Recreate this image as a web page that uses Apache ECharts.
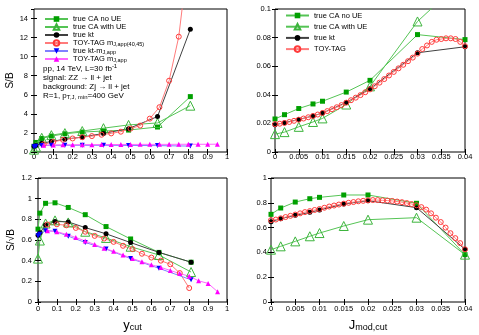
<!DOCTYPE html>
<html>
<head>
<meta charset="utf-8">
<script src="https://cdn.jsdelivr.net/npm/echarts@6/dist/echarts.min.js"></script>
<style>html,body{margin:0;padding:0;background:#fff}#c{width:479px;height:335px}</style>
</head>
<body>
<div id="c"></div>
<script>
// ---------- data ----------
const ycutA = [0, 0.01, 0.04, 0.09, 0.16, 0.25, 0.36, 0.49, 0.64, 0.81];
const ycutToy = [0.05, 0.10, 0.15, 0.20, 0.25, 0.30, 0.35, 0.40, 0.45, 0.50, 0.55, 0.60, 0.65, 0.70, 0.75, 0.80];
const ycutToyApp = [0.05, 0.10, 0.15, 0.20, 0.25, 0.30, 0.35, 0.40, 0.45, 0.50, 0.55, 0.60, 0.65, 0.70, 0.75, 0.80, 0.85, 0.90, 0.95];

// S/B vs ycut
const sbCAnoUE   = [0.6, 1.0, 1.42, 1.67, 1.91, 2.09, 2.2, 2.3, 2.62, 5.81];
const sbCAwithUE = [0.25, 0.55, 1.49, 1.77, 1.98, 2.2, 2.5, 2.84, 3.05, 4.86];
const sbKt       = [0.6, 0.67, 0.92, 1.1, 1.35, 1.56, 1.95, 2.45, 3.72, 12.87];
const sbToy      = [0.8, 1.06, 1.28, 1.42, 1.55, 1.67, 1.81, 1.95, 2.13, 2.45, 2.77, 3.5, 4.7, 7.48, 12.1, 20.5];
const sbKtApp    = [0.55, 0.6, 0.68, 0.7, 0.7, 0.7, 0.7, 0.69, 0.67, 0.62];
const sbToyApp   = [0.72, 0.74, 0.75, 0.76, 0.77, 0.77, 0.78, 0.78, 0.79, 0.79, 0.8, 0.8, 0.8, 0.8, 0.81, 0.81, 0.81, 0.81, 0.82];

// S/sqrt(B) vs ycut
const ssCAnoUE   = [0.705, 0.86, 0.955, 0.96, 0.915, 0.845, 0.73, 0.61, 0.48, 0.385];
const ssCAwithUE = [0.42, 0.595, 0.76, 0.79, 0.77, 0.68, 0.62, 0.535, 0.455, 0.29];
const ssKt       = [0.645, 0.67, 0.745, 0.78, 0.775, 0.72, 0.66, 0.575, 0.48, 0.385];
const ssToy      = [0.75, 0.752, 0.742, 0.717, 0.68, 0.64, 0.614, 0.582, 0.544, 0.512, 0.467, 0.43, 0.4, 0.365, 0.28, 0.135];
const ssKtApp    = [0.64, 0.655, 0.69, 0.685, 0.637, 0.576, 0.512, 0.42, 0.326, 0.215];
const ssToyApp   = [0.69, 0.68, 0.655, 0.625, 0.59, 0.557, 0.52, 0.49, 0.455, 0.42, 0.39, 0.36, 0.335, 0.305, 0.275, 0.25, 0.205, 0.18, 0.1];

// vs Jmod,cut
const jmodA = [0, 0.002, 0.005, 0.008, 0.01, 0.015, 0.02, 0.03, 0.04];
const jmodToy = [0, 0.001, 0.002, 0.003, 0.004, 0.005, 0.006, 0.007, 0.008, 0.009, 0.010,
  0.011, 0.012, 0.013, 0.014, 0.015, 0.016, 0.017, 0.018, 0.019, 0.020,
  0.021, 0.022, 0.023, 0.024, 0.025, 0.026, 0.027, 0.028, 0.029, 0.030,
  0.031, 0.032, 0.033, 0.034, 0.035, 0.036, 0.037, 0.038, 0.039, 0.040];

const sb2CAnoUE   = [0.0231, 0.0261, 0.0304, 0.0336, 0.0355, 0.0419, 0.0501, 0.0821, 0.0786];
const sb2CAwithUE = [0.0125, 0.0139, 0.0176, 0.021, 0.0235, 0.0332, 0.0459, 0.0913, 0.122];
const sb2Kt       = [0.019, 0.0205, 0.0228, 0.0252, 0.0273, 0.0346, 0.0442, 0.0694, 0.0736];
const sb2Toy = [0.0195, 0.0198, 0.0203, 0.021, 0.0218, 0.0226, 0.0234, 0.0243, 0.0252, 0.0262, 0.0273,
  0.0286, 0.0299, 0.0313, 0.0328, 0.0345, 0.0362, 0.038, 0.0398, 0.0418, 0.0438,
  0.046, 0.0485, 0.051, 0.0535, 0.056, 0.0585, 0.061, 0.0635, 0.066, 0.0688,
  0.072, 0.0745, 0.077, 0.0785, 0.079, 0.0795, 0.0795, 0.079, 0.077, 0.074];

const ss2CAnoUE   = [0.707, 0.758, 0.806, 0.833, 0.844, 0.863, 0.863, 0.796, 0.382];
const ss2CAwithUE = [0.422, 0.449, 0.489, 0.53, 0.556, 0.613, 0.664, 0.68, 0.382];
const ss2Kt       = [0.648, 0.672, 0.699, 0.723, 0.742, 0.79, 0.817, 0.761, 0.425];
const ss2Toy = [0.66, 0.665, 0.675, 0.685, 0.695, 0.705, 0.715, 0.725, 0.733, 0.742, 0.75,
  0.76, 0.77, 0.778, 0.786, 0.793, 0.8, 0.806, 0.812, 0.816, 0.82,
  0.822, 0.822, 0.82, 0.818, 0.815, 0.81, 0.805, 0.798, 0.79, 0.78,
  0.765, 0.745, 0.715, 0.68, 0.645, 0.6, 0.555, 0.515, 0.475, 0.425];

const namesTop = ['true CA no UE', 'true CA with UE', 'true kt', 'TOY-TAG m_J,app(40,45)', 'true kt-m_J,app', 'TOY-TAG m_J,app'];
const namesRight = ['true CA no UE', 'true CA with UE', 'true kt', 'TOY-TAG'];

// ---------- styles ----------
const FONT = 'Liberation Sans, Arial, Helvetica, sans-serif';
const ST = {
  caNo:   {symbol: 'rect', symbolSize: 5, itemStyle: {color: '#00a000'}, lineStyle: {color: '#55c455', width: 1}},
  caWith: {symbol: 'triangle', symbolSize: 9, itemStyle: {color: 'rgba(255,255,255,0)', borderColor: '#3cb43c', borderWidth: 1}, lineStyle: {color: '#55c455', width: 1}},
  kt:     {symbol: 'circle', symbolSize: 5, itemStyle: {color: '#000'}, lineStyle: {color: '#404040', width: 1}},
  toy:    {symbol: 'circle', symbolSize: 5, itemStyle: {color: 'rgba(255,255,255,0)', borderColor: '#ff3a3a', borderWidth: 1}, lineStyle: {color: '#ff7b7b', width: 1}},
  ktApp:  {symbol: 'triangle', symbolRotate: 180, symbolSize: 5, itemStyle: {color: '#0000ff'}, lineStyle: {color: '#8080ff', width: 1}},
  toyApp: {symbol: 'triangle', symbolSize: 5, itemStyle: {color: '#ff00ff'}, lineStyle: {color: '#ff66ff', width: 1}}
};

function pairs(xs, ys) { return xs.map((x, i) => [x, ys[i]]); }
function ser(name, gi, xs, ys, st) {
  return Object.assign({
    type: 'line', name: name, xAxisIndex: 2 * gi, yAxisIndex: 2 * gi,
    data: pairs(xs, ys), animation: false, clip: true,
    emphasis: {disabled: true}
  }, JSON.parse(JSON.stringify(st)));
}

const grids = [
  {left: 34, top: 9, width: 193, height: 143},
  {left: 275, top: 9, width: 190, height: 143},
  {left: 38, top: 178, width: 189, height: 124},
  {left: 271, top: 178, width: 194, height: 124}
].map(g => Object.assign(g, {show: true, borderColor: '#000', borderWidth: 1, backgroundColor: 'transparent'}));

const tick = {show: true, inside: true, length: 3, lineStyle: {color: '#000', width: 1}};
const lblBase = {color: '#000', fontFamily: FONT, fontSize: 7.5};

const axisRanges = [
  {x: [0, 1, 0.1], y: [0, 15, 2], xm: 1, ym: 6},
  {x: [0, 0.04, 0.005], y: [0, 0.1, 0.02], xm: 1, ym: 4},
  {x: [0, 1, 0.1], y: [0, 1.2, 0.2], xm: 3, ym: 6},
  {x: [0, 0.04, 0.005], y: [0, 1, 0.2], xm: 3, ym: 4}
];

const subRich = {
  a: {fontFamily: FONT, fontSize: 13, lineHeight: 14, color: '#000'},
  b: {fontFamily: FONT, fontSize: 9, lineHeight: 8, verticalAlign: 'bottom', color: '#000'}
};
const xNames = [null, null, '{a|y}{b|cut}', '{a|J}{b|mod,cut}'];
const yNames = ['S/B', null, 'S/\u221AB', null];
const yNameGaps = [19, 0, 22, 0];

const xAxes = [], yAxes = [];
axisRanges.forEach((r, gi) => {
  xAxes.push({
    type: 'value', gridIndex: gi, position: 'bottom', min: r.x[0], max: r.x[1], interval: r.x[2],
    axisLine: {show: false}, splitLine: {show: false}, axisTick: tick,
    axisLabel: Object.assign({margin: r.xm, showMaxLabel: true}, lblBase),
    name: xNames[gi] || '', nameLocation: 'middle', nameGap: 16,
    nameTextStyle: {rich: subRich}
  });
  xAxes.push({
    type: 'value', gridIndex: gi, position: 'top', min: r.x[0], max: r.x[1], interval: r.x[2],
    axisLine: {show: false}, splitLine: {show: false}, axisTick: tick, axisLabel: {show: false}
  });
  yAxes.push({
    type: 'value', gridIndex: gi, position: 'left', min: r.y[0], max: r.y[1], interval: r.y[2],
    axisLine: {show: false}, splitLine: {show: false}, axisTick: tick,
    axisLabel: Object.assign({margin: r.ym, showMaxLabel: gi !== 0}, lblBase),
    name: yNames[gi] || '', nameLocation: 'middle', nameGap: yNameGaps[gi],
    nameTextStyle: {fontFamily: FONT, fontSize: 10, color: '#000'}
  });
  yAxes.push({
    type: 'value', gridIndex: gi, position: 'right', min: r.y[0], max: r.y[1], interval: r.y[2],
    axisLine: {show: false}, splitLine: {show: false}, axisTick: tick, axisLabel: {show: false}
  });
});

const series = [
  ser(namesTop[0], 0, ycutA, sbCAnoUE, ST.caNo),
  ser(namesTop[1], 0, ycutA, sbCAwithUE, ST.caWith),
  ser(namesTop[2], 0, ycutA, sbKt, ST.kt),
  ser(namesTop[3], 0, ycutToy, sbToy, ST.toy),
  ser(namesTop[4], 0, ycutA, sbKtApp, ST.ktApp),
  ser(namesTop[5], 0, ycutToyApp, sbToyApp, ST.toyApp),

  ser(namesRight[0], 1, jmodA, sb2CAnoUE, ST.caNo),
  ser(namesRight[1], 1, jmodA, sb2CAwithUE, ST.caWith),
  ser(namesRight[2], 1, jmodA, sb2Kt, ST.kt),
  ser(namesRight[3], 1, jmodToy, sb2Toy, ST.toy),

  ser(namesTop[0], 2, ycutA, ssCAnoUE, ST.caNo),
  ser(namesTop[1], 2, ycutA, ssCAwithUE, ST.caWith),
  ser(namesTop[2], 2, ycutA, ssKt, ST.kt),
  ser(namesTop[3], 2, ycutToy, ssToy, ST.toy),
  ser(namesTop[4], 2, ycutA, ssKtApp, ST.ktApp),
  ser(namesTop[5], 2, ycutToyApp, ssToyApp, ST.toyApp),

  ser(namesRight[0], 3, jmodA, ss2CAnoUE, ST.caNo),
  ser(namesRight[1], 3, jmodA, ss2CAwithUE, ST.caWith),
  ser(namesRight[2], 3, jmodA, ss2Kt, ST.kt),
  ser(namesRight[3], 3, jmodToy, ss2Toy, ST.toy)
];

const legRich = {
  n: {fontFamily: FONT, fontSize: 7.5, lineHeight: 8, color: '#000'},
  s: {fontFamily: FONT, fontSize: 5.5, lineHeight: 4, verticalAlign: 'bottom', color: '#000'}
};
function legFmt(name) {
  const k = name.indexOf('_');
  if (k < 0) return '{n|' + name + '}';
  return '{n|' + name.slice(0, k) + '}{s|' + name.slice(k + 1) + '}';
}

const infoRich = {
  n: {fontFamily: FONT, fontSize: 8, lineHeight: 10, color: '#000'},
  p: {fontFamily: FONT, fontSize: 6, lineHeight: 5, verticalAlign: 'top', color: '#000'},
  s: {fontFamily: FONT, fontSize: 6, lineHeight: 5, verticalAlign: 'bottom', color: '#000'}
};
const infoLines = [
  '{n|pp, 14 TeV, L=30 fb}{p|-1}',
  '{n|signal: ZZ \u2192 ll + jet}',
  '{n|background: Zj \u2192 ll + jet}',
  '{n|R=1, p}{s|T,J, min}{n|=400 GeV}'
];
const infoTops = [63.3, 73.3, 82.7, 91.7];

const option = {
  animation: false,
  grid: grids,
  xAxis: xAxes,
  yAxis: yAxes,
  series: series,
  legend: [
    {data: namesTop, orient: 'vertical', left: 44, top: 15, padding: 0, itemWidth: 23, itemHeight: 7, itemGap: 0,
     selectedMode: false, formatter: legFmt, textStyle: {rich: legRich, fontSize: 7.5, fontFamily: FONT}},
    {data: namesRight, orient: 'vertical', left: 285, top: 11.5, padding: 0, itemWidth: 23, itemHeight: 7, itemGap: 3.2,
     selectedMode: false, formatter: legFmt, textStyle: {rich: legRich, fontSize: 7.5, fontFamily: FONT}}
  ],
  graphic: infoLines.map((t, i) => ({
    type: 'text', left: 43, top: infoTops[i], silent: true,
    style: {text: t, rich: infoRich, fill: '#000', font: '8px ' + FONT}
  }))
};

const chart = echarts.init(document.getElementById('c'), null, {renderer: 'canvas'});
chart.setOption(option);
</script>
</body>
</html>
